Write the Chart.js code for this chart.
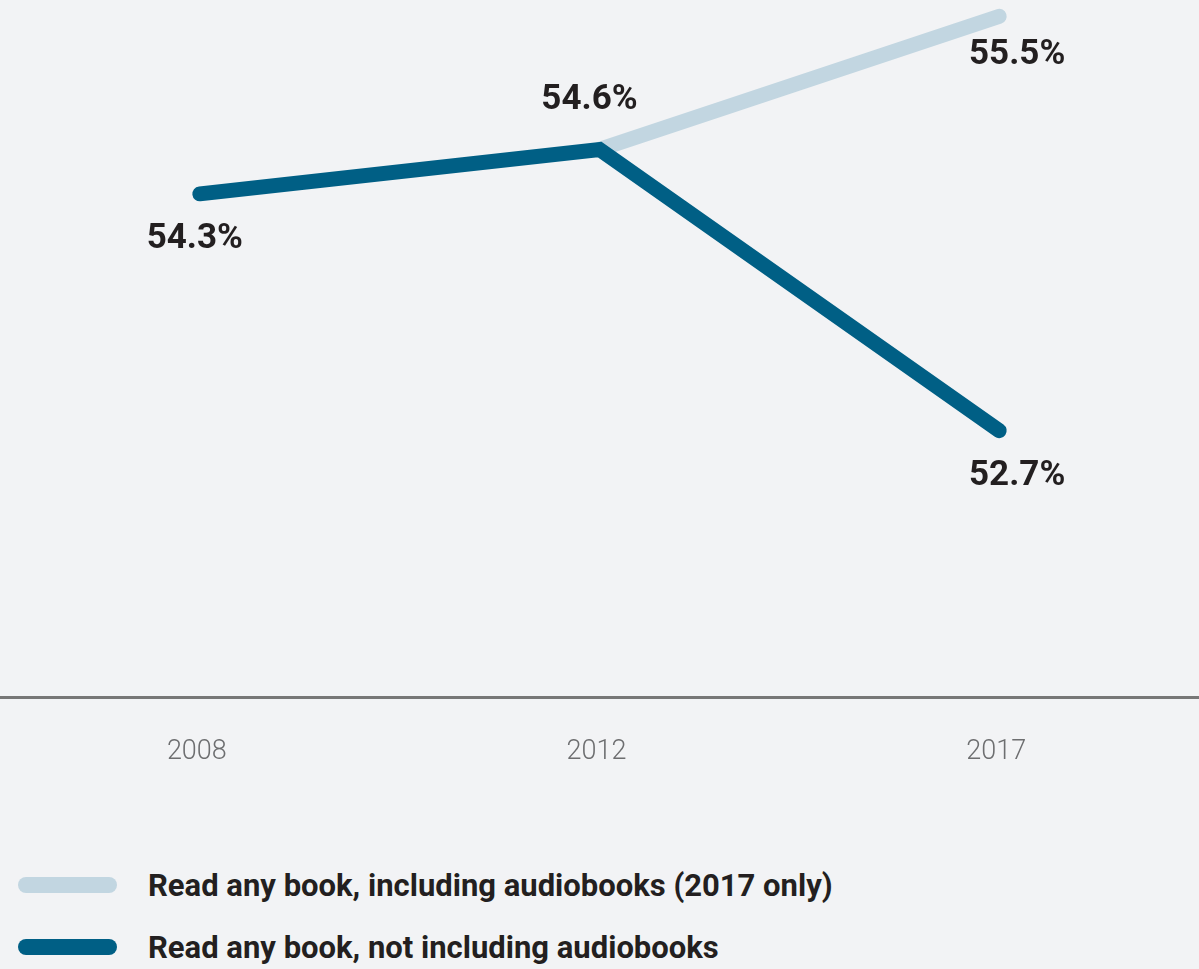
<!DOCTYPE html>
<html>
<head>
<meta charset="utf-8">
<script src="https://cdn.jsdelivr.net/npm/chart.js@4/dist/chart.umd.min.js"></script>
<style>
  html, body { margin: 0; padding: 0; background: #f2f3f5; }
  body { width: 1199px; height: 969px; position: relative; overflow: hidden; }
  #wrap { position: absolute; left: 0; top: 0; width: 1199px; height: 800px; }
  #legend { position: absolute; left: 18px; top: 860px; font-family: Roboto, sans-serif; }
  .item { display: flex; align-items: center; height: 50px; margin-bottom: 12px; }
  .swatch { width: 99px; height: 16px; border-radius: 8px; margin-right: 31px; }
  .txt { font-weight: bold; font-size: 31px; color: #231f20; }
</style>
</head>
<body>
<div id="wrap"><canvas id="chart"></canvas></div>
<div id="legend"></div>
<script>
const years = ['2008', '2012', '2017'];
const withAudio = [null, 54.6, 55.5];
const withoutAudio = [54.3, 54.6, 52.7];
const seriesNames = [
    'Read any book, including audiobooks (2017 only)',
    'Read any book, not including audiobooks',
];
const lightBlue = '#c2d6e1';
const darkBlue = '#005f85';
const labelFont = 'Roboto, sans-serif';

// value labels: offset of each one from its point
const valueLabels = {
    id: 'valueLabels',
    afterDatasetsDraw(chart) {
        const ctx = chart.ctx;
        ctx.save();
        ctx.font = 'bold 35px ' + labelFont;
        ctx.fillStyle = '#231f20';
        ctx.textAlign = 'center';
        ctx.textBaseline = 'middle';
        chart.data.datasets.forEach((ds, i) => {
            const meta = chart.getDatasetMeta(i);
            (ds.labelAt || []).forEach((pos, j) => {
                if (!pos) return;
                const pt = meta.data[j];
                ctx.fillText(ds.data[j].toFixed(1) + '%', pt.x + pos[0], pt.y + pos[1]);
            });
        });
        ctx.restore();
    }
};

const chart = new Chart(document.getElementById('chart'), {
    type: 'line',
    data: {
        labels: years,
        datasets: [{
            label: seriesNames[0],
            data: withAudio,
            borderColor: lightBlue,
            backgroundColor: lightBlue,
            borderWidth: 15,
            borderCapStyle: 'round',
            pointRadius: 0,
            order: 1,
            labelAt: [null, null, [18, 39]],
        }, {
            label: seriesNames[1],
            data: withoutAudio,
            borderColor: darkBlue,
            backgroundColor: darkBlue,
            borderWidth: 15,
            borderCapStyle: 'round',
            borderJoinStyle: 'miter',
            pointRadius: 0,
            order: 0,
            labelAt: [[-5, 45], [-10, -49], [18, 46]],
        }],
    },
    options: {
        responsive: true,
        maintainAspectRatio: false,
        animation: false,
        layout: { padding: 0 },
        plugins: {
            legend: { display: false },
            tooltip: { enabled: false },
        },
        scales: {
            x: {
                offset: true,
                grid: { display: false, drawTicks: false },
                border: { display: true, color: '#777777', width: 3 },
                ticks: {
                    color: '#6d6e70',
                    font: { family: labelFont, size: 27, weight: 300 },
                    padding: 39,
                    labelOffset: -3,
                },
                afterFit(scale) { scale.height = 103; },
            },
            y: {
                display: false,
                min: 50.9,
                max: 55.61,
            },
        },
    },
    plugins: [valueLabels],
});

const legendEl = document.getElementById('legend');
chart.data.datasets.forEach(ds => {
    const item = document.createElement('div');
    item.className = 'item';
    item.innerHTML = '<span class="swatch" style="background:' + ds.borderColor + '"></span><span class="txt">' + ds.label + '</span>';
    legendEl.appendChild(item);
});
</script>
</body>
</html>
